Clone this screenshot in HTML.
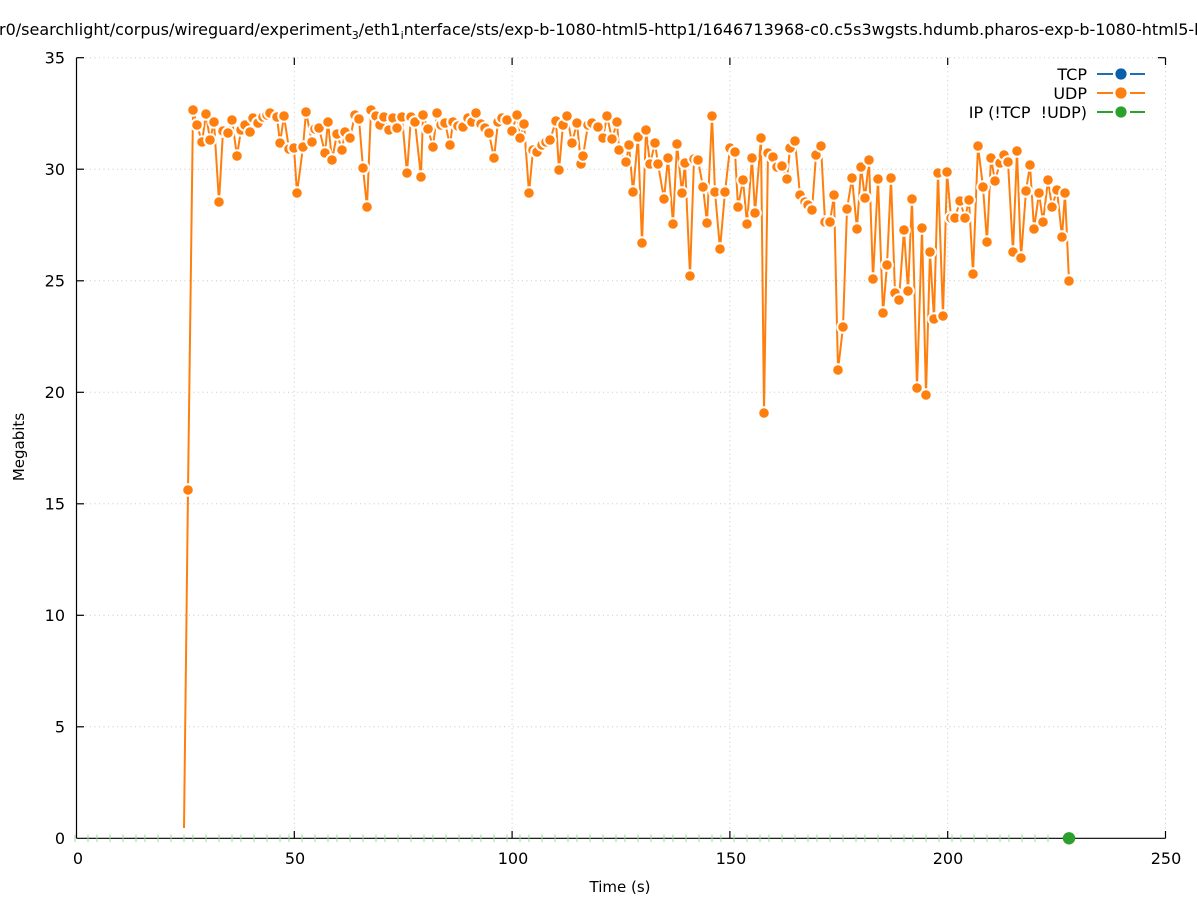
<!DOCTYPE html>
<html><head><meta charset="utf-8"><style>
html,body{margin:0;padding:0;background:#fff;overflow:hidden;width:1197px;height:900px;}
svg{display:block;}
text{font-family:"DejaVu Sans","Liberation Sans",sans-serif;fill:#000;}
</style></head><body>
<svg width="1197" height="900" viewBox="0 0 1197 900" xmlns="http://www.w3.org/2000/svg">
<rect width="1197" height="900" fill="#fff"/>
<text x="-1" y="35" font-size="16" text-anchor="start">r0/searchlight/corpus/wireguard/experiment<tspan font-size="11" dy="4">3</tspan><tspan dy="-4">/eth1</tspan><tspan font-size="11" dy="4">i</tspan><tspan dy="-4">nterface/sts/exp-b-1080-html5-http1/1646713968-c0.c5s3wgsts.hdumb.pharos-exp-b-1080-html5-http1</tspan></text>
<g stroke="#c8c8c8" stroke-width="1" stroke-dasharray="1,3.5" fill="none">
<line x1="76.5" y1="726.8" x2="1165.5" y2="726.8"/>
<line x1="76.5" y1="615.3" x2="1165.5" y2="615.3"/>
<line x1="76.5" y1="503.8" x2="1165.5" y2="503.8"/>
<line x1="76.5" y1="392.3" x2="1165.5" y2="392.3"/>
<line x1="76.5" y1="280.8" x2="1165.5" y2="280.8"/>
<line x1="76.5" y1="169.2" x2="1165.5" y2="169.2"/>
<line x1="76.5" y1="57.7" x2="1165.5" y2="57.7"/>
<line x1="294.3" y1="57.7" x2="294.3" y2="838.3"/>
<line x1="512.1" y1="57.7" x2="512.1" y2="838.3"/>
<line x1="729.9" y1="57.7" x2="729.9" y2="838.3"/>
<line x1="947.7" y1="57.7" x2="947.7" y2="838.3"/>
<line x1="1165.5" y1="57.7" x2="1165.5" y2="838.3"/>
</g>
<g stroke="#000" stroke-width="1.2" fill="none">
<line x1="76.5" y1="57.7" x2="76.5" y2="838.3"/>
<line x1="76.5" y1="838.3" x2="1165.5" y2="838.3"/>
<line x1="76.5" y1="57.7" x2="84" y2="57.7"/>
<line x1="76.5" y1="169.2" x2="84" y2="169.2"/>
<line x1="76.5" y1="280.8" x2="84" y2="280.8"/>
<line x1="76.5" y1="392.3" x2="84" y2="392.3"/>
<line x1="76.5" y1="503.8" x2="84" y2="503.8"/>
<line x1="76.5" y1="615.3" x2="84" y2="615.3"/>
<line x1="76.5" y1="726.8" x2="84" y2="726.8"/>
<line x1="1158" y1="57.7" x2="1165.5" y2="57.7"/>
<line x1="294.3" y1="838.3" x2="294.3" y2="831"/>
<line x1="512.1" y1="838.3" x2="512.1" y2="831"/>
<line x1="729.9" y1="838.3" x2="729.9" y2="831"/>
<line x1="947.7" y1="838.3" x2="947.7" y2="831"/>
<line x1="1165.5" y1="838.3" x2="1165.5" y2="831"/>
<line x1="294.3" y1="57.7" x2="294.3" y2="65"/>
<line x1="512.1" y1="57.7" x2="512.1" y2="65"/>
<line x1="729.9" y1="57.7" x2="729.9" y2="65"/>
<line x1="947.7" y1="57.7" x2="947.7" y2="65"/>
<line x1="1165.5" y1="57.7" x2="1165.5" y2="65"/>
</g>
<g font-size="16" text-anchor="end">
<text x="65" y="63.5">35</text>
<text x="65" y="175">30</text>
<text x="65" y="286.5">25</text>
<text x="65" y="398">20</text>
<text x="65" y="509.5">15</text>
<text x="65" y="621">10</text>
<text x="65" y="732.5">5</text>
<text x="65" y="844">0</text>
</g>
<g font-size="16" text-anchor="middle">
<text x="78" y="864">0</text>
<text x="295" y="864">50</text>
<text x="513" y="864">100</text>
<text x="731" y="864">150</text>
<text x="948" y="864">200</text>
<text x="1166" y="864">250</text>
</g>
<text x="620" y="892" font-size="15" text-anchor="middle">Time (s)</text>
<text x="0" y="0" font-size="15" text-anchor="middle" transform="translate(24,447) rotate(-90)">Megabits</text>
<g id="greenticks" stroke="#9ad89a" stroke-width="1"></g>
<circle cx="1069" cy="838.3" r="6.2" fill="#2ca02c"/>
<polyline id="udpline" fill="none" stroke="#ff7f0e" stroke-width="2" stroke-linejoin="miter"/>
<g id="udppts" fill="#ff7f0e" stroke="#fff" stroke-width="2"></g>
<g font-size="16" text-anchor="end">
<text x="1087" y="80">TCP</text>
<text x="1087" y="99">UDP</text>
<text x="1087" y="118">IP (!TCP&#160; !UDP)</text>
</g>
<g stroke-width="2">
<line x1="1097" y1="74" x2="1113" y2="74" stroke="#1f6fb4"/>
<line x1="1130" y1="74" x2="1145" y2="74" stroke="#1f6fb4"/>
<circle cx="1121" cy="74" r="5.6" fill="#0a5fad" stroke="none"/>
<line x1="1097" y1="93" x2="1113" y2="93" stroke="#ff7f0e"/>
<line x1="1130" y1="93" x2="1145" y2="93" stroke="#ff7f0e"/>
<circle cx="1121" cy="93" r="5.6" fill="#ff7f0e" stroke="none"/>
<line x1="1097" y1="112" x2="1113" y2="112" stroke="#2ca02c"/>
<line x1="1130" y1="112" x2="1145" y2="112" stroke="#2ca02c"/>
<circle cx="1121" cy="112" r="5.6" fill="#2ca02c" stroke="none"/>
</g>
</svg>
<script>
(function(){
var pts=[[188,490],[193,110],[197,125],[202,142],[206,114],[210,140],[214,122],[219,202],[223,131],[228,133],[232,120],[237,156],[241,130],[245,125],[250,132],[253,118],[258,123],[263,117],[267,115],[270,113],[277,117],[280,143],[284,116],[289,149],[294,148],[297,193],[303,147],[306,112],[312,142],[315,129],[319,128],[325,153],[328,122],[332,160],[337,134],[342,150],[345,132],[350,138],[355,115],[359,119],[363,168],[367,207],[371,110],[376,116],[380,125],[384,117],[389,130],[393,118],[397,128],[402,117],[407,173],[411,117],[415,122],[421,177],[423,115],[428,129],[433,147],[437,113],[441,125],[445,123],[450,145],[453,122],[458,126],[463,127],[468,118],[472,122],[476,113],[481,124],[485,128],[489,133],[494,158],[498,122],[502,118],[507,120],[512,131],[517,115],[520,138],[524,124],[529,193],[533,150],[537,152],[542,145],[546,142],[550,140],[556,121],[559,170],[563,125],[567,116],[572,143],[577,123],[581,164],[583,156],[588,125],[592,123],[598,127],[603,138],[607,116],[612,139],[617,122],[619,150],[626,162],[629,145],[633,192],[638,137],[642,243],[646,130],[650,164],[655,143],[658,164],[664,199],[668,158],[673,224],[677,144],[682,193],[685,163],[690,276],[694,159],[698,160],[703,187],[707,223],[712,116],[715,192],[720,249],[725,192],[730,148],[735,152],[738,207],[743,180],[747,224],[752,158],[755,213],[761,138],[764,413],[768,153],[773,157],[777,167],[782,166],[787,179],[790,148],[795,141],[800,195],[805,202],[808,205],[812,210],[816,155],[821,146],[825,222],[830,222],[834,195],[838,370],[843,327],[847,209],[852,178],[857,229],[861,167],[865,198],[869,160],[873,279],[878,179],[883,313],[887,265],[891,178],[895,293],[899,300],[904,230],[908,291],[912,199],[917,388],[922,228],[926,395],[930,252],[934,319],[938,173],[943,316],[947,172],[951,218],[955,218],[960,201],[965,218],[969,200],[973,274],[978,146],[983,187],[987,242],[991,158],[995,181],[1000,163],[1004,155],[1008,162],[1013,252],[1017,151],[1021,258],[1026,191],[1030,165],[1034,229],[1039,193],[1043,222],[1048,180],[1052,207],[1057,190],[1062,237],[1065,193],[1069,281]];
var ns="http://www.w3.org/2000/svg";
var line=document.getElementById("udpline");
var s="184,828 ";
for(var i=0;i<pts.length;i++){s+=pts[i][0]+","+pts[i][1]+" ";}
line.setAttribute("points",s);
var g=document.getElementById("udppts");
for(var i=0;i<pts.length;i++){var c=document.createElementNS(ns,"circle");c.setAttribute("cx",pts[i][0]);c.setAttribute("cy",pts[i][1]);c.setAttribute("r","5.8");g.appendChild(c);}
var gt=document.getElementById("greenticks");
var inc=[13,9,13,13];var x=75,k=0;
while(x<=1053){var l=document.createElementNS(ns,"line");l.setAttribute("x1",x);l.setAttribute("x2",x);l.setAttribute("y1",834.5);l.setAttribute("y2",842);gt.appendChild(l);x+=inc[k%4];k++;}
})();
</script>
</body></html>
